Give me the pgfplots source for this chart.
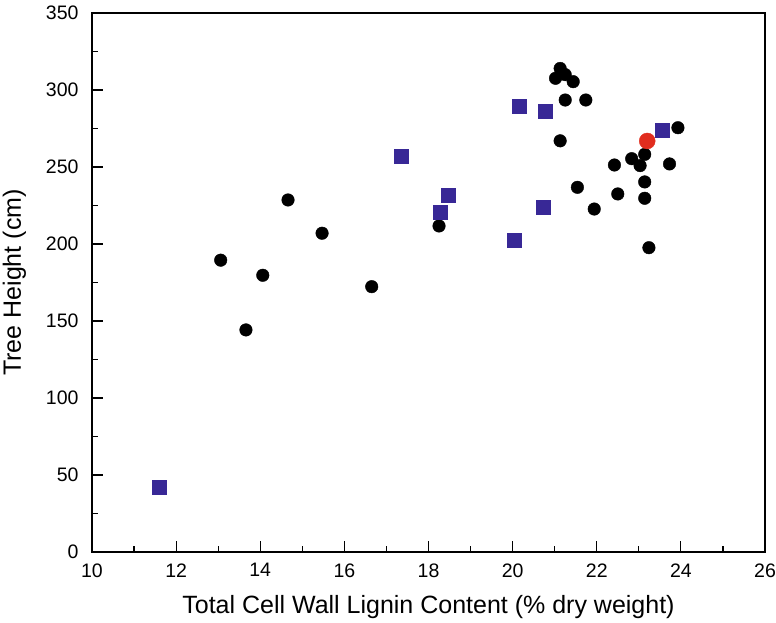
\documentclass[border=0pt]{standalone}
\usepackage{pgfplots}
\pgfplotsset{compat=1.18}
\usepackage{fontspec}
\setmainfont{Liberation Sans}
\definecolor{sqblue}{RGB}{56,40,150}
\definecolor{dotred}{RGB}{225,45,30}
\begin{document}
\begin{tikzpicture}
\begin{axis}[
  scale only axis,
  width=673bp, height=539bp,
  xmin=10, xmax=26, ymin=0, ymax=350,
  xtick={10,12,...,26}, ytick={0,50,...,350},
  minor x tick num=1, minor y tick num=1,
  xtick pos=bottom, ytick pos=left,
  tick align=inside,
  major tick length=11bp, minor tick length=6bp,
  axis line style={line width=1.3bp},
  every tick/.style={line width=1.2bp, black},
  /pgf/number format/assume math mode=true,
  ticklabel style={font=\fontsize{19.5bp}{23bp}\selectfont},
  xticklabel style={yshift=-8bp},
  yticklabel style={xshift=-10bp},
  label style={font=\fontsize{25bp}{30bp}\selectfont},
  xlabel={Total Cell Wall Lignin Content (\% dry weight)},
  ylabel={Tree Height (cm)},
  xlabel style={at={(axis description cs:0.5,-0.1132)}, anchor=base},
  ylabel style={at={(axis description cs:-0.1055,0.5)}, anchor=base},
]
\addplot[only marks, mark=*, mark size=6.3bp, mark options={fill=black, draw=black}] coordinates {
(13.06,189.5) (13.66,144.2) (14.06,179.7) (14.66,228.6) (15.47,207) (16.65,172.3) (18.25,211.7)
(21.13,314) (21.02,307.6) (21.25,310) (21.44,305.4) (21.25,293.5) (21.74,293.5) (21.13,267)
(22.42,251.3) (21.54,236.8) (21.94,222.7) (22.5,232.5) (23.93,275.5) (23.14,258.2) (22.83,255.4)
(23.03,250.9) (23.73,252) (23.14,240.3) (23.14,229.7) (23.24,197.6)
};
\addplot[only marks, mark=square*, mark size=7bp, mark options={fill=sqblue, draw=sqblue}] coordinates {
(11.6,42) (17.35,257.3) (18.46,231.4) (18.27,220.8) (20.16,289.8) (20.77,286.4) (20.73,223.8) (20.03,202.4) (23.56,273.6)
};
\addplot[only marks, mark=*, mark size=8bp, mark options={fill=dotred, draw=dotred}] coordinates {
(23.2,266.9)
};
\end{axis}
\pgfresetboundingbox
\path[use as bounding box] (current axis.south west) ++(-92bp,-71bp) rectangle ([xshift=11bp,yshift=13bp]current axis.north east);
\end{tikzpicture}
\end{document}
